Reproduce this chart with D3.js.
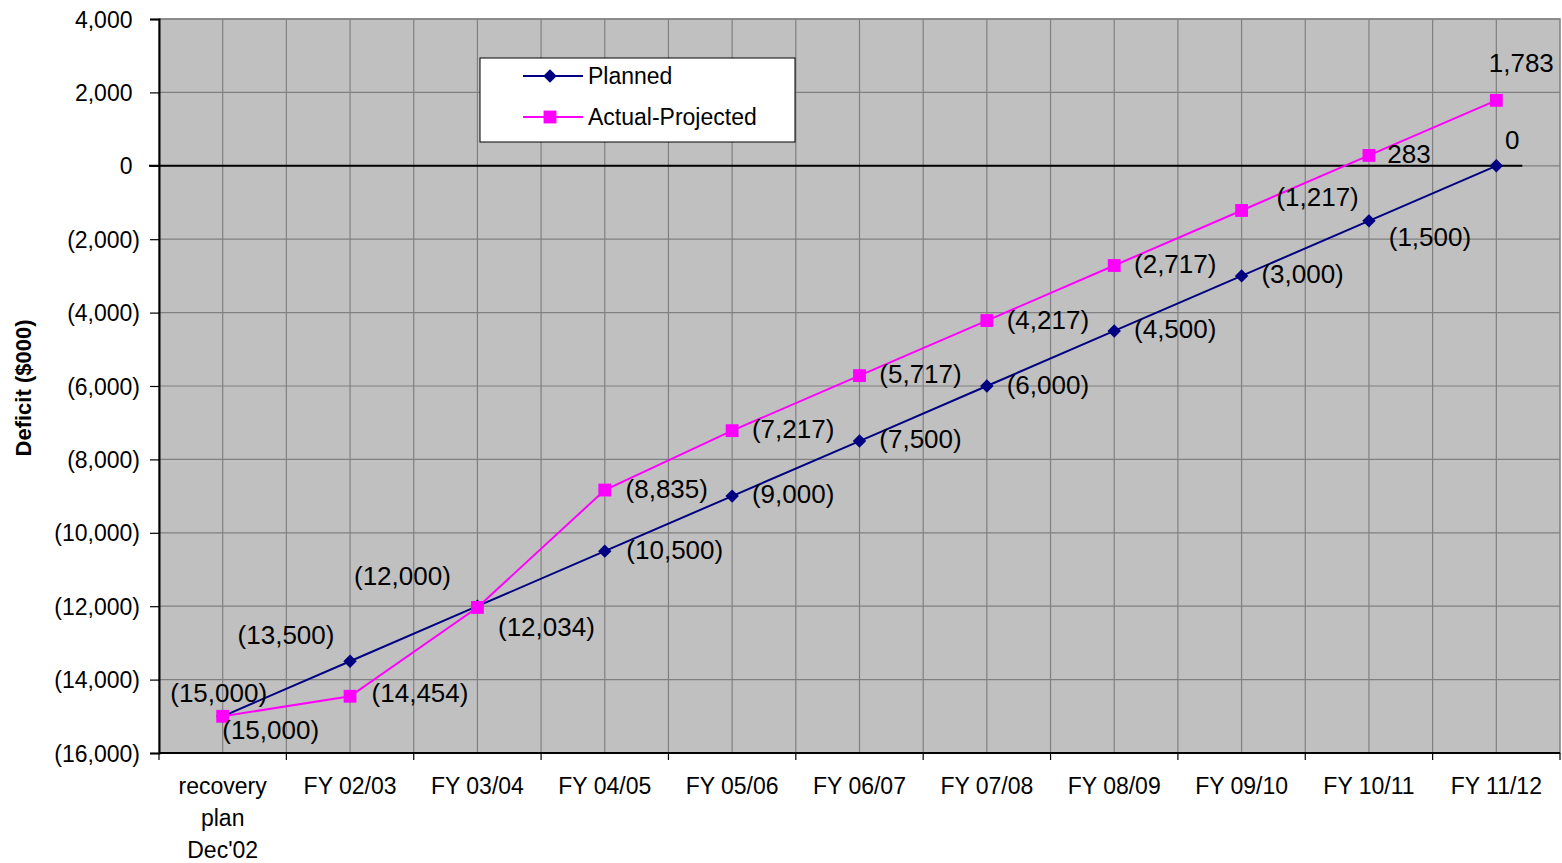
<!DOCTYPE html>
<html>
<head>
<meta charset="utf-8">
<script src="https://cdn.jsdelivr.net/npm/d3@7"></script>
<style>
  body { margin: 0; background: #fff; }
  text { font-family: "Liberation Sans", Arial, sans-serif; fill: #000; }
</style>
</head>
<body>
<script>
// chart values
var categories = ["recovery plan Dec'02", "FY 02/03", "FY 03/04", "FY 04/05", "FY 05/06",
                  "FY 06/07", "FY 07/08", "FY 08/09", "FY 09/10", "FY 10/11", "FY 11/12"];
var planned = [-15000, -13500, -12000, -10500, -9000, -7500, -6000, -4500, -3000, -1500, 0];
var actualProjected = [-15000, -14454, -12034, -8835, -7217, -5717, -4217, -2717, -1217, 283, 1783];
var yTicks = [4000, 2000, 0, -2000, -4000, -6000, -8000, -10000, -12000, -14000, -16000];

// where each data label sits relative to its point (text centre)
var plannedLabelOff = [[-4, -23], [-64, -26], [-75, -30], [70, -1], [61, -2], [61, -2],
                       [61, -1], [61, -2], [61, -2], [61, 16], [16, -26]];
var actualLabelOff = [[48, 14], [70, -3], [69, 19], [62, -1], [61, -2], [61, -2],
                      [61, -1], [61, -2], [76, -14], [40, -2], [25, -37]];

var W = 1562, H = 863;
var plotL = 159, plotR = 1560, plotT = 19, plotB = 753;

var svg = d3.select("body").append("svg")
            .attr("width", W)
            .attr("height", H);

var x = d3.scaleBand()
          .domain(categories)
          .range([plotL, plotR]);
var cx = function(i) { return x(categories[i]) + x.bandwidth() / 2; };

var y = d3.scaleLinear()
          .domain([-16000, 4000])
          .range([plotB, plotT]);

var fmt = function(v) {
  var s = d3.format(",")(Math.abs(v));
  return v < 0 ? "(" + s + ")" : s;
};

// plot background
svg.append("rect")
   .attr("x", plotL).attr("y", plotT)
   .attr("width", plotR - plotL).attr("height", plotB - plotT)
   .attr("fill", "#C0C0C0")
   .attr("stroke", "#808080")
   .attr("stroke-width", 1.5);

// gridlines
var grid = svg.append("g").attr("stroke", "#808080").attr("stroke-width", 1.2);
yTicks.forEach(function(t) {
  grid.append("line")
      .attr("x1", plotL).attr("x2", plotR)
      .attr("y1", y(t)).attr("y2", y(t));
});
var step = x.bandwidth() / 2;
for (var k = 1; k < categories.length * 2; k++) {
  grid.append("line")
      .attr("x1", plotL + k * step).attr("x2", plotL + k * step)
      .attr("y1", plotT).attr("y2", plotB);
}

// axes
var yAxis = d3.axisLeft(y)
              .tickValues(yTicks)
              .tickSize(9)
              .tickPadding(10)
              .tickFormat(fmt);
var gy = svg.append("g")
            .attr("transform", "translate(" + plotL + ",0)")
            .call(yAxis);
gy.select(".domain").attr("stroke", "#000").attr("stroke-width", 2);
gy.selectAll(".tick line").attr("stroke", "#000").attr("stroke-width", 1.2);
gy.selectAll(".tick text")
  .style("font-size", "23px")
  .attr("dy", "0.35em")
  .attr("dx", function(d) { return d >= 0 ? -7.5 : 0; });
gy.attr("font-family", null).attr("font-size", null);

var gx = svg.append("g").attr("transform", "translate(0," + plotB + ")");
gx.append("line")
  .attr("x1", plotL).attr("x2", plotR)
  .attr("y1", 0).attr("y2", 0)
  .attr("stroke", "#000").attr("stroke-width", 2);
for (var b = 0; b <= categories.length; b++) {
  var bx = b < categories.length ? x(categories[b]) : plotR;
  gx.append("line")
    .attr("x1", bx).attr("x2", bx)
    .attr("y1", 0).attr("y2", 7)
    .attr("stroke", "#000").attr("stroke-width", 1.2);
}
categories.forEach(function(c, i) {
  var lines = i == 0 ? ["recovery", "plan", "Dec'02"] : [c];
  var t = gx.append("text")
            .attr("text-anchor", "middle")
            .style("font-size", "23px")
            .attr("x", cx(i))
            .attr("y", 41);
  lines.forEach(function(l, j) {
    t.append("tspan").attr("x", cx(i)).attr("dy", j == 0 ? 0 : 32).text(l);
  });
});

// y title
svg.append("text")
   .attr("transform", "translate(31,388) rotate(-90)")
   .attr("text-anchor", "middle")
   .style("font-size", "22px")
   .style("font-weight", "bold")
   .text("Deficit ($000)");

// zero line
svg.append("line")
   .attr("x1", plotL - 10).attr("x2", cx(categories.length - 1) + 26)
   .attr("y1", y(0)).attr("y2", y(0))
   .attr("stroke", "#000").attr("stroke-width", 2);

var line = d3.line()
             .x(function(d, i) { return cx(i); })
             .y(function(d) { return y(d); });

var diamond = d3.symbol().type(d3.symbolDiamond2).size(115);
var square = d3.symbol().type(d3.symbolSquare).size(165);

function drawSeries(vals, color, sym, offs) {
  svg.append("path")
     .datum(vals)
     .attr("fill", "none")
     .attr("stroke", color)
     .attr("stroke-width", 2)
     .attr("d", line);
  svg.selectAll(null)
     .data(vals)
     .enter().append("path")
     .attr("d", sym)
     .attr("fill", color)
     .attr("transform", function(d, i) { return "translate(" + cx(i) + "," + y(d) + ")"; });
  svg.selectAll(null)
     .data(vals)
     .enter().append("text")
     .attr("text-anchor", "middle")
     .attr("dy", "0.35em")
     .style("font-size", "26px")
     .attr("x", function(d, i) { return cx(i) + offs[i][0]; })
     .attr("y", function(d, i) { return y(d) + offs[i][1]; })
     .text(fmt);
}

drawSeries(planned, "#000080", diamond, plannedLabelOff);
drawSeries(actualProjected, "#FF00FF", square, actualLabelOff);

// legend
var lg = svg.append("g").attr("transform", "translate(480,58)");
lg.append("rect")
  .attr("width", 315).attr("height", 84)
  .attr("fill", "#fff")
  .attr("stroke", "#000")
  .attr("stroke-width", 1);
var legendItems = [
  { name: "Planned", color: "#000080", sym: diamond, y: 18 },
  { name: "Actual-Projected", color: "#FF00FF", sym: square, y: 59 }
];
legendItems.forEach(function(it) {
  lg.append("line")
    .attr("x1", 43).attr("x2", 103)
    .attr("y1", it.y).attr("y2", it.y)
    .attr("stroke", it.color).attr("stroke-width", 2);
  lg.append("path")
    .attr("d", it.sym)
    .attr("fill", it.color)
    .attr("transform", "translate(70," + it.y + ")");
  lg.append("text")
    .attr("x", 108).attr("y", it.y)
    .attr("dy", "0.35em")
    .style("font-size", "23px")
    .text(it.name);
});
</script>
</body>
</html>
